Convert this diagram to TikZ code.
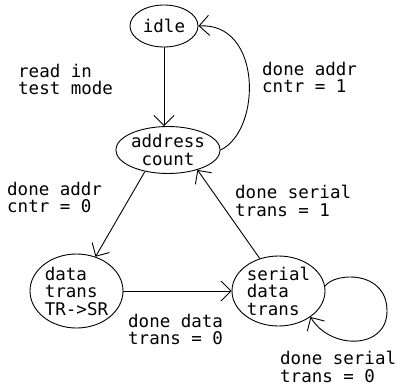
\documentclass[tikz,border=0pt]{standalone}
\usepackage{fontspec}
\newfontfamily\pixfont{DejaVu Sans Mono}
\usetikzlibrary{arrows.meta,shapes.geometric}
\tikzset{
  every picture/.style={x=1pt,y=-1pt},
  state/.style={draw,ellipse,inner sep=0pt,line width=0.9pt,
    font=\pixfont\fontsize{17.5}{17.5}\selectfont},
  lbl/.style={anchor=north west,inner sep=0pt,align=left,
    font=\pixfont\fontsize{17.5}{17.5}\selectfont},
  conn/.style={line width=0.9pt,-{Straight Barb[length=10pt,width=20pt,line width=0.9pt]}}
}
\begin{document}
\begin{tikzpicture}
\useasboundingbox (0,0) rectangle (397,386);
\node[state,minimum width=68pt,minimum height=42pt] (idle) at (164,26) {idle};
\node[state,minimum width=101pt,minimum height=47pt,align=center] (addr) at (168,150) {address\\count};
\node[state,minimum width=93pt,minimum height=74pt,align=left] (data) at (76.5,291) {data\\trans\\TR->SR};
\node[state,minimum width=93pt,minimum height=70pt,align=left] (serial) at (278.5,291) {serial\\data\\trans};

\draw[conn] (idle.south) -- (idle.south |- addr.north);
\draw[conn] (addr.east) .. controls (262,130) and (262,22) .. (idle.east);
\draw[conn] (addr.-137) -- (data.61);
\draw[conn] (data.east) -- (serial.west);
\draw[conn] (serial.120) -- (addr.-34);
\draw[conn] (serial.6) .. controls (335,272) and (387,270) .. (387,311)
  .. controls (387,350) and (330,350) .. (serial.-39);

\node[lbl] (l1) at (18,64) {read in\\test mode};
\node[lbl] (l2) at (262,62) {done addr\\cntr = 1};
\node[lbl] (l3) at (7,182) {done addr\\cntr = 0};
\node[lbl] (l4) at (235,185) {done serial\\trans = 1};
\node[lbl] (l5) at (128,314) {done data\\trans = 0};
\node[lbl] (l6) at (280,351) {done serial\\trans = 0};
\end{tikzpicture}
\end{document}
